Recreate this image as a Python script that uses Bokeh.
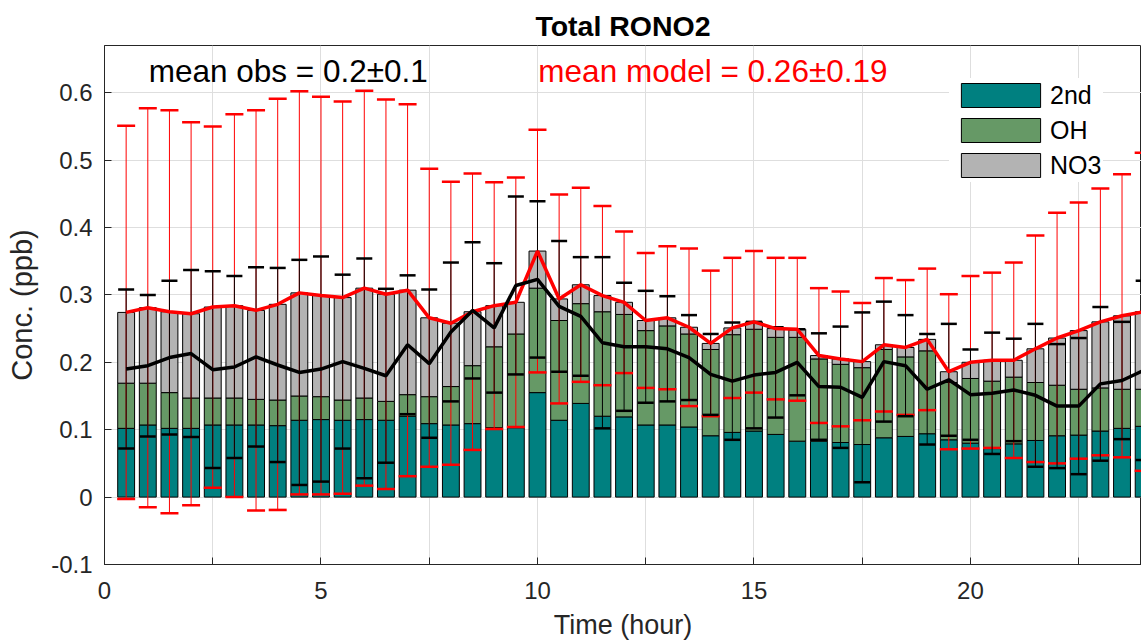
from bokeh.plotting import figure
from bokeh.models import (ColumnDataSource, FixedTicker, Label, Legend, LegendItem, Range1d)
from bokeh.embed import file_html
from bokeh.resources import INLINE

# ---------------- data ----------------
hours = [0.5, 1.0, 1.5, 2.0, 2.5, 3.0, 3.5, 4.0, 4.5, 5.0, 5.5, 6.0,
         6.5, 7.0, 7.5, 8.0, 8.5, 9.0, 9.5, 10.0, 10.5, 11.0, 11.5, 12.0,
         12.5, 13.0, 13.5, 14.0, 14.5, 15.0, 15.5, 16.0, 16.5, 17.0, 17.5, 18.0,
         18.5, 19.0, 19.5, 20.0, 20.5, 21.0, 21.5, 22.0, 22.5, 23.0, 23.5, 24.0]

second = [0.102, 0.107, 0.102, 0.102, 0.107, 0.107, 0.107, 0.106, 0.114, 0.115, 0.114, 0.115,
          0.114, 0.120, 0.109, 0.107, 0.109, 0.103, 0.103, 0.155, 0.114, 0.139, 0.120, 0.119,
          0.107, 0.107, 0.104, 0.091, 0.096, 0.098, 0.093, 0.083, 0.083, 0.081, 0.078, 0.088,
          0.090, 0.094, 0.085, 0.080, 0.072, 0.079, 0.084, 0.091, 0.092, 0.098, 0.102, 0.105]
oh = [0.067, 0.062, 0.053, 0.045, 0.040, 0.040, 0.038, 0.038, 0.036, 0.034, 0.030, 0.032,
      0.028, 0.032, 0.040, 0.057, 0.086, 0.120, 0.139, 0.155, 0.148, 0.148, 0.155, 0.152,
      0.140, 0.147, 0.138, 0.128, 0.145, 0.151, 0.144, 0.154, 0.122, 0.116, 0.114, 0.131,
      0.118, 0.123, 0.085, 0.096, 0.100, 0.099, 0.086, 0.075, 0.068, 0.064, 0.058, 0.055]
no3 = [0.105, 0.112, 0.120, 0.125, 0.135, 0.137, 0.132, 0.142, 0.153, 0.150, 0.152, 0.163,
       0.159, 0.155, 0.117, 0.094, 0.080, 0.061, 0.047, 0.055, 0.032, 0.028, 0.024, 0.018,
       0.015, 0.012, 0.010, 0.009, 0.010, 0.011, 0.013, 0.012, 0.005, 0.008, 0.009, 0.007,
       0.014, 0.017, 0.016, 0.024, 0.031, 0.025, 0.050, 0.070, 0.087, 0.098, 0.109, 0.115]
model_std = [0.277, 0.296, 0.299, 0.284, 0.268, 0.284, 0.297, 0.305, 0.299, 0.295, 0.291, 0.293,
             0.289, 0.276, 0.221, 0.210, 0.205, 0.183, 0.185, 0.180, 0.155, 0.144, 0.133, 0.105,
             0.100, 0.106, 0.117, 0.108, 0.104, 0.105, 0.105, 0.106, 0.100, 0.100, 0.087, 0.099,
             0.100, 0.105, 0.115, 0.128, 0.130, 0.145, 0.168, 0.186, 0.190, 0.198, 0.210, 0.236]
obs_mean = [0.190, 0.195, 0.207, 0.213, 0.189, 0.193, 0.208, 0.196, 0.185, 0.190, 0.201, 0.191,
            0.180, 0.226, 0.198, 0.245, 0.277, 0.251, 0.314, 0.323, 0.283, 0.268, 0.229, 0.223,
            0.223, 0.220, 0.207, 0.182, 0.172, 0.181, 0.185, 0.200, 0.164, 0.163, 0.148, 0.201,
            0.195, 0.160, 0.174, 0.152, 0.154, 0.159, 0.151, 0.135, 0.135, 0.168, 0.173, 0.188]
obs_std = [0.118, 0.105, 0.114, 0.124, 0.146, 0.135, 0.133, 0.144, 0.167, 0.167, 0.129, 0.163,
           0.129, 0.103, 0.110, 0.103, 0.101, 0.096, 0.132, 0.116, 0.097, 0.088, 0.127, 0.095,
           0.083, 0.078, 0.063, 0.060, 0.087, 0.079, 0.067, 0.049, 0.079, 0.090, 0.126, 0.089,
           0.075, 0.082, 0.083, 0.067, 0.090, 0.076, 0.106, 0.092, 0.101, 0.114, 0.087, 0.133]

series_names = ["2nd", "OH", "NO3"]
series_colors = ["#008080", "#669966", "#b3b3b3"]

title_text = "Total RONO2"
obs_text = "mean obs = 0.2\u00b10.1"
model_text = "mean model = 0.26\u00b10.19"
x_label = "Time (hour)"
y_label = "Conc. (ppb)"

x_major_ticks = [0, 5, 10, 15, 20]
x_minor_ticks = [2.5, 7.5, 12.5, 17.5, 22.5]
y_ticks = [-0.1, 0, 0.1, 0.2, 0.3, 0.4, 0.5, 0.6]
y_tick_labels = ["-0.1", "0", "0.1", "0.2", "0.3", "0.4", "0.5", "0.6"]

# ---------------- derived ----------------
model_total = [a + b + c for a, b, c in zip(second, oh, no3)]
src = ColumnDataSource(dict(
    x=hours, s2nd=second, soh=oh, sno3=no3,
    model=model_total,
    m_up=[m + s for m, s in zip(model_total, model_std)],
    m_lo=[m - s for m, s in zip(model_total, model_std)],
    obs=obs_mean,
    o_up=[m + s for m, s in zip(obs_mean, obs_std)],
    o_lo=[m - s for m, s in zip(obs_mean, obs_std)],
))

FONT = "Liberation Sans"
DARK = "#262626"

p = figure(width=1141, height=642, output_backend="svg", toolbar_location=None,
           x_range=Range1d(0, 23.95), y_range=Range1d(-0.1, 0.67),
           min_border_left=104, min_border_right=0, min_border_top=45,
           min_border_bottom=78)
p.outline_line_color = DARK
p.outline_line_width = 1
p.background_fill_color = "white"

# title
p.title.text = title_text
p.title.align = "center"
p.title.text_font = FONT
p.title.text_font_style = "bold"
p.title.text_font_size = "28.5px"
p.title.text_color = "black"
p.title.standoff = 8
p.title.offset = 3

# bars
bars = p.vbar_stack(["s2nd", "soh", "sno3"], x="x", width=0.39, source=src,
                    fill_color=series_colors, line_color="black", line_width=1)

# model error bars
p.segment(x0="x", y0="m_lo", x1="x", y1="m_up", source=src, line_color="red", line_width=1)
p.scatter(x="x", y="m_up", source=src, marker="dash", size=18, line_color="red", line_width=2.5)
p.scatter(x="x", y="m_lo", source=src, marker="dash", size=18, line_color="red", line_width=2.5)

# obs error bars
p.segment(x0="x", y0="o_lo", x1="x", y1="o_up", source=src, line_color="black", line_width=1)
p.scatter(x="x", y="o_up", source=src, marker="dash", size=16, line_color="black", line_width=2.5)
p.scatter(x="x", y="o_lo", source=src, marker="dash", size=16, line_color="black", line_width=2.5)

# lines
p.line(x="x", y="model", source=src, line_color="red", line_width=3.5)
p.line(x="x", y="obs", source=src, line_color="black", line_width=3.5)

# axes
for ax in (p.xaxis[0], p.yaxis[0]):
    ax.axis_line_color = DARK
    ax.major_tick_line_color = DARK
    ax.minor_tick_line_color = DARK
    ax.major_tick_in = 7
    ax.major_tick_out = 0
    ax.minor_tick_in = 7
    ax.minor_tick_out = 0
    ax.major_label_text_font = FONT
    ax.major_label_text_font_size = "24px"
    ax.major_label_text_color = DARK
    ax.axis_label_text_font = FONT
    ax.axis_label_text_font_style = "normal"
    ax.axis_label_text_color = DARK

p.xaxis.ticker = FixedTicker(ticks=x_major_ticks, minor_ticks=x_minor_ticks)
p.xaxis.major_label_standoff = 17
p.xaxis.axis_label = x_label
p.xaxis.axis_label_text_font_size = "27px"
p.xaxis.axis_label_standoff = 8

p.yaxis.ticker = FixedTicker(ticks=y_ticks, minor_ticks=[])
p.yaxis.major_label_overrides = {t: l for t, l in zip(y_ticks, y_tick_labels)}
p.yaxis.major_label_standoff = 12
p.yaxis.axis_label = y_label
p.yaxis.axis_label_text_font_size = "29px"
p.yaxis.axis_label_standoff = 10

# grid
p.xgrid.ticker = FixedTicker(ticks=x_major_ticks + x_minor_ticks)
p.ygrid.ticker = FixedTicker(ticks=y_ticks)
p.grid.grid_line_color = "#dedede"
p.grid.grid_line_width = 1

# annotations
p.add_layout(Label(x=1.02, y=0.632, text=obs_text, text_font=FONT, text_font_size="31.5px",
                   text_color="black", text_baseline="alphabetic"))
p.add_layout(Label(x=10.02, y=0.632, text=model_text, text_font=FONT, text_font_size="31.5px",
                   text_color="red", text_baseline="alphabetic"))

# legend
legend = Legend(items=[LegendItem(label=n, renderers=[r]) for n, r in zip(series_names, bars)],
                location=(845, 382), glyph_width=99, glyph_height=30,
                label_text_font=FONT, label_text_font_size="25px", label_text_color="black",
                label_standoff=0, spacing=5, padding=2, margin=0,
                border_line_alpha=0, background_fill_color="white", background_fill_alpha=1)
p.add_layout(legend)

open("out.html", "w").write(file_html(p, INLINE))
